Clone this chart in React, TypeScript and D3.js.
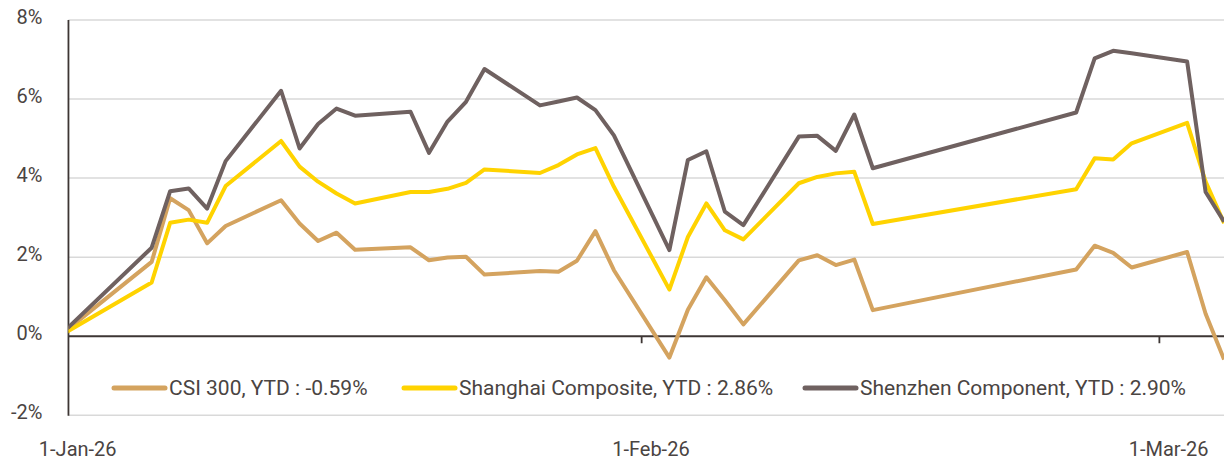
import React from "react";
import * as d3 from "d3";

const dates: string[] = [
  "2025-12-31",
  "2026-01-05", "2026-01-06", "2026-01-07", "2026-01-08", "2026-01-09",
  "2026-01-12", "2026-01-13", "2026-01-14", "2026-01-15", "2026-01-16",
  "2026-01-19", "2026-01-20", "2026-01-21", "2026-01-22", "2026-01-23",
  "2026-01-26", "2026-01-27", "2026-01-28", "2026-01-29", "2026-01-30",
  "2026-02-02", "2026-02-03", "2026-02-04", "2026-02-05", "2026-02-06",
  "2026-02-09", "2026-02-10", "2026-02-11", "2026-02-12", "2026-02-13",
  "2026-02-24", "2026-02-25", "2026-02-26", "2026-02-27",
  "2026-03-02", "2026-03-03", "2026-03-04",
];

const csi300: number[] = [
  0,
  1.88, 3.49, 3.19, 2.35, 2.79,
  3.44, 2.85, 2.41, 2.62, 2.19,
  2.25, 1.92, 1.99, 2.01, 1.56,
  1.65, 1.63, 1.91, 2.66, 1.67,
  -0.54, 0.67, 1.49, 0.91, 0.30,
  1.92, 2.05, 1.80, 1.94, 0.66,
  1.69, 2.29, 2.11, 1.74,
  2.13, 0.57, -0.59,
];

const shanghai: number[] = [
  0,
  1.36, 2.87, 2.95, 2.87, 3.80,
  4.94, 4.29, 3.91, 3.61, 3.36,
  3.65, 3.65, 3.73, 3.88, 4.22,
  4.13, 4.33, 4.6, 4.76, 3.78,
  1.18, 2.51, 3.36, 2.68, 2.45,
  3.87, 4.03, 4.12, 4.16, 2.84,
  3.72, 4.50, 4.47, 4.88,
  5.40, 3.91, 2.86,
];

const shenzhen: number[] = [
  0,
  2.24, 3.67, 3.74, 3.23, 4.43,
  6.21, 4.75, 5.37, 5.76, 5.58,
  5.68, 4.64, 5.43, 5.93, 6.76,
  5.84, 5.94, 6.04, 5.72, 5.08,
  2.18, 4.46, 4.68, 3.15, 2.81,
  5.05, 5.07, 4.69, 5.61, 4.25,
  5.66, 7.03, 7.22, 7.16,
  6.95, 3.65, 2.90,
];

const seriesNames: string[] = [
  "CSI 300, YTD : -0.59%",
  "Shanghai Composite, YTD : 2.86%",
  "Shenzhen Component, YTD : 2.90%",
];
const seriesColors: string[] = ["#D4A35F", "#FFD300", "#6F6160"];

const yTicks: number[] = [-2, 0, 2, 4, 6, 8];
const xTickLabels: string[] = ["2026-01-01", "2026-02-01", "2026-03-01"];
const monthBoundaries: string[] = ["2026-02-01", "2026-03-01"];

const W = 1224;
const H = 461;
const FONT = "Roboto, 'Open Sans', sans-serif";
const TEXT = "#4A4442";

const parse = (s: string) => {
  const [y, m, d] = s.split("-").map(Number);
  return new Date(Date.UTC(y, m - 1, d));
};

export default function App() {
  const x = d3
    .scaleUtc()
    .domain([parse("2026-01-01"), parse("2026-03-04")])
    .range([77.7, 1224.1]);
  const dayW = (x(parse("2026-03-04")) - x(parse("2026-01-01"))) / 62;
  const plotLeft = x(parse("2026-01-01")) - dayW / 2;
  const plotRight = x(parse("2026-03-04")) + dayW / 2;

  const y = d3.scaleLinear().domain([-2, 8]).range([415.3, 20]);

  const series = [csi300, shanghai, shenzhen];
  const line = (vals: number[]) =>
    d3
      .line<number>()
      .x((_, i) => x(parse(dates[i])))
      .y((v) => y(v))(vals) || "";

  const legendX = [112, 402, 803];
  const legendY = 388;

  return (
    <svg
      width={W}
      height={H}
      style={{ position: "absolute", left: 0, top: 0, background: "#fff" }}
    >
      <defs>
        <clipPath id="plotclip">
          <rect x={plotLeft} y={0} width={plotRight - plotLeft} height={H} />
        </clipPath>
      </defs>
      {/* gridlines */}
      {yTicks
        .filter((t) => t !== 0)
        .map((t) => (
          <line
            key={t}
            x1={plotLeft}
            x2={plotRight}
            y1={y(t)}
            y2={y(t)}
            stroke="#D9D9D9"
            strokeWidth={1.5}
          />
        ))}
      {/* y tick labels */}
      {yTicks.map((t) => (
        <text
          key={t}
          x={42.5}
          y={y(t) + 4}
          textAnchor="end"
          fontFamily={FONT}
          fontSize={20}
          fill={TEXT}
        >
          {`${t}%`}
        </text>
      ))}
      {/* y axis line */}
      <line
        x1={plotLeft}
        x2={plotLeft}
        y1={y(8)}
        y2={y(-2) + 0.5}
        stroke="#3D3634"
        strokeWidth={1.8}
      />
      {/* zero line */}
      <line
        x1={plotLeft}
        x2={plotRight}
        y1={y(0)}
        y2={y(0)}
        stroke="#3D3634"
        strokeWidth={1.8}
      />
      {monthBoundaries.map((d) => {
        const bx = x(parse(d)) - dayW / 2;
        return (
          <line
            key={d}
            x1={bx}
            x2={bx}
            y1={y(0)}
            y2={y(0) + 7}
            stroke="#3D3634"
            strokeWidth={1.8}
          />
        );
      })}
      {/* x labels */}
      {xTickLabels.map((d) => (
        <text
          key={d}
          x={x(parse(d))}
          y={456}
          textAnchor="middle"
          fontFamily={FONT}
          fontSize={20}
          fill={TEXT}
        >
          {d3.utcFormat("%-d-%b-%y")(parse(d))}
        </text>
      ))}
      {/* series */}
      <g clipPath="url(#plotclip)">
        {series.map((vals, i) => (
          <path
            key={i}
            d={line(vals)}
            fill="none"
            stroke={seriesColors[i]}
            strokeWidth={4}
            strokeLinejoin="round"
          />
        ))}
      </g>
      {/* legend */}
      {seriesNames.map((name, i) => (
        <g key={name}>
          <line
            x1={legendX[i] + 2}
            x2={legendX[i] + 53}
            y1={legendY}
            y2={legendY}
            stroke={seriesColors[i]}
            strokeWidth={5}
            strokeLinecap="round"
          />
          <text
            x={legendX[i] + 57}
            y={legendY + 7}
            fontFamily={FONT}
            fontSize={21}
            fill={TEXT}
          >
            {name}
          </text>
        </g>
      ))}
    </svg>
  );
}
